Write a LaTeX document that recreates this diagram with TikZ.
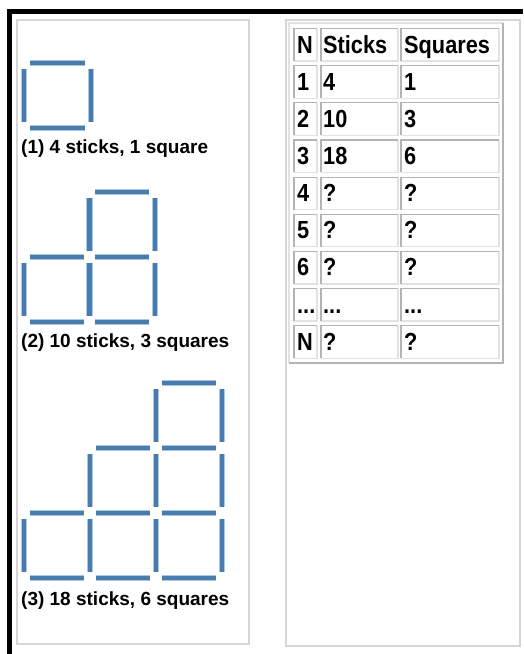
\documentclass[tikz,border=0pt]{standalone}
\usepackage{fontspec}
\setmainfont{Liberation Sans}
\newfontfamily\tabfont[FakeStretch=0.88]{Liberation Sans}

\definecolor{stickblue}{RGB}{72,124,174}
\definecolor{stickhalo}{RGB}{172,199,225}
\definecolor{panelgray}{RGB}{214,214,214}
\definecolor{cellhigh}{RGB}{180,180,180}
\definecolor{celllow}{RGB}{226,226,226}

% gap at the ends of a stick, in cells
\newcommand\gp{0.085}
% the four sticks round the square at column #1, row #2
\newcommand\sqr[2]{%
  \draw[stick] (#1+\gp,#2) -- (#1+1-\gp,#2)
               (#1+\gp,#2+1) -- (#1+1-\gp,#2+1)
               (#1,#2+\gp) -- (#1,#2+1-\gp)
               (#1+1,#2+\gp) -- (#1+1,#2+1-\gp);}
\newcommand\ldts{...}

\begin{document}
\begin{tikzpicture}[
    x=1pt, y=-1pt,
    stick/.style={line width=4.6pt, draw=stickblue,
      preaction={draw=stickhalo, line width=6.8pt}},
    panel/.style={draw=panelgray, line width=1.5pt},
    cellhi/.style={draw=cellhigh, line width=1.2pt},
    celllo/.style={draw=celllow, line width=1.2pt},
    lbl/.style={anchor=base west, inner sep=0pt,
      font=\bfseries\fontsize{19}{20}\selectfont},
    tab/.style={anchor=base west, inner sep=0pt,
      font=\tabfont\bfseries\fontsize{24.7}{26}\selectfont}
  ]
    \useasboundingbox (0,0) rectangle (523,654);

    % frame
    \fill (7,9) rectangle (523,13.5);
    \fill (7,9) rectangle (12,654);

    \draw[panel] (17,20) rectangle (249,644);
    \draw[panel] (286,20) rectangle (520,646);

    % the three figures
    \begin{scope}[shift={(24,63)}, x=67pt, y=-65pt]
      \sqr{0}{0}
    \end{scope}
    \node[lbl] (lbl1) at (21,153) {(1) 4 sticks, 1 square};

    \begin{scope}[shift={(24,192)}, x=65.5pt, y=-65pt]
      \sqr{1}{0}
      \sqr{0}{1} \sqr{1}{1}
    \end{scope}
    \node[lbl] (lbl2) at (21,347) {(2) 10 sticks, 3 squares};

    \begin{scope}[shift={(24,383)}, x=66pt, y=-65pt]
      \sqr{2}{0}
      \sqr{1}{1} \sqr{2}{1}
      \sqr{0}{2} \sqr{1}{2} \sqr{2}{2}
    \end{scope}
    \node[lbl] (lbl3) at (21,605) {(3) 18 sticks, 6 squares};

    % table
    \draw[draw=celllow, line width=1.2pt] (289,363) -- (289,23) -- (503,23);
    \draw[draw=cellhigh, line width=1.2pt] (503,23) -- (503,363) -- (289,363);

    \foreach \n/\s/\q [count=\r from 0] in {N/Sticks/Squares, 1/4/1, 2/10/3,
        3/18/6, 4/?/?, 5/?/?, 6/?/?, \ldts/\ldts/\ldts, N/?/?} {
      \pgfmathsetmacro\ty{28.5+37.15*\r}
      \foreach \xl/\xr in {294/317, 321/398, 401/499} {
        \draw[celllo] (\xr,\ty) -- (\xr,\ty+32.5) -- (\xl,\ty+32.5);
        \draw[cellhi] (\xl,\ty+32.5) -- (\xl,\ty) -- (\xr,\ty);
      }
      \node[tab] (n\r)  at (297,\ty+24.5) {\n};
      \node[tab] (st\r) at (323,\ty+24.5) {\s};
      \node[tab] (sq\r) at (404,\ty+24.5) {\q};
    }
  \end{tikzpicture}
\end{document}
